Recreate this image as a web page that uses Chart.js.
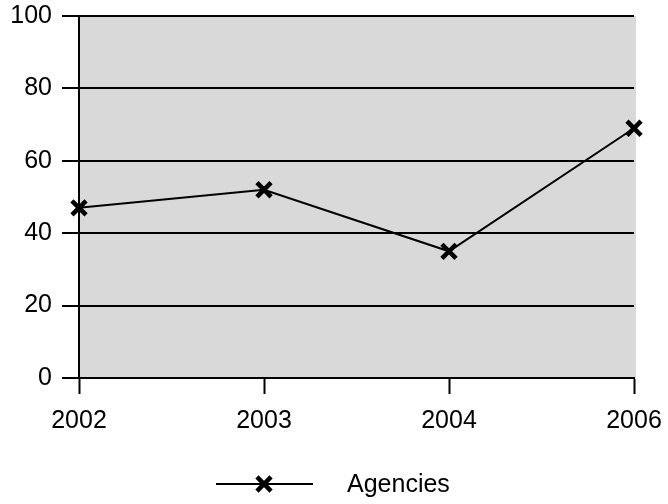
<!DOCTYPE html>
<html>
<head>
<meta charset="utf-8">
<script src="https://cdn.jsdelivr.net/npm/chart.js@4/dist/chart.umd.min.js"></script>
<style>
  html, body { margin: 0; padding: 0; background: #ffffff; }
  #wrap { width: 668px; height: 504px; }
</style>
</head>
<body>
<div id="wrap"><canvas id="c" width="668" height="504"></canvas></div>
<script>
// Survey years and the share reported for agencies
const years = ['2002', '2003', '2004', '2006'];
const agencies = [47, 52, 35, 69];
const yTicks = [0, 20, 40, 60, 80, 100];
const seriesName = 'Agencies';

const FONT = { family: '"Liberation Sans", Arial, sans-serif', size: 25 };

// Grey plot background behind the gridlines
const plotBackground = {
  id: 'plotBackground',
  beforeDraw(chart) {
    const { ctx, chartArea: a } = chart;
    ctx.save();
    ctx.fillStyle = '#d9d9d9';
    ctx.fillRect(a.left, a.top, a.right - a.left + 2, a.bottom - a.top);
    ctx.restore();
  }
};

// Legend entry: a line sample with the series marker, label to the right
const lineLegend = {
  id: 'lineLegend',
  afterDraw(chart) {
    const { ctx } = chart;
    const ds = chart.data.datasets[0];
    const y = 484;
    const x0 = 216, x1 = 313, xm = 264;
    ctx.save();
    ctx.strokeStyle = ds.borderColor;
    ctx.lineWidth = ds.borderWidth;
    ctx.beginPath();
    ctx.moveTo(x0, y);
    ctx.lineTo(x1, y);
    ctx.stroke();
    ctx.lineWidth = ds.pointBorderWidth;
    Chart.helpers.drawPoint(ctx, {
      pointStyle: ds.pointStyle,
      radius: ds.pointRadius,
      borderWidth: ds.pointBorderWidth,
      rotation: 0
    }, xm, y);
    ctx.fillStyle = '#000';
    ctx.font = `${FONT.size}px ${FONT.family}`;
    ctx.textBaseline = 'middle';
    ctx.textAlign = 'left';
    ctx.fillText(ds.label, 347, y + 1);
    ctx.restore();
  }
};

new Chart(document.getElementById('c'), {
  type: 'line',
  data: {
    labels: years,
    datasets: [{
      label: seriesName,
      data: agencies,
      borderColor: '#000000',
      borderWidth: 2,
      pointStyle: 'crossRot',
      pointRadius: 10,
      pointBorderWidth: 4.5,
      pointBorderColor: '#000000',
      pointBackgroundColor: '#000000',
      tension: 0
    }]
  },
  options: {
    responsive: false,
    animation: false,
    devicePixelRatio: 1,
    layout: { padding: { left: 0, right: 34, top: 16, bottom: 66 } },
    plugins: {
      legend: { display: false },
      tooltip: { enabled: false }
    },
    scales: {
      x: {
        offset: false,
        afterFit(s) { s.height = 60; s.paddingLeft = 0; s.paddingRight = 0; },
        grid: {
          display: true,
          drawOnChartArea: false,
          drawTicks: true,
          tickLength: 16,
          tickWidth: 2,
          tickColor: '#000'
        },
        border: { display: true, color: '#000', width: 2 },
        ticks: {
          color: '#000',
          font: FONT,
          padding: 12,
          maxRotation: 0,
          autoSkip: false
        }
      },
      y: {
        min: 0,
        max: 100,
        afterFit(s) { s.width = 79; s.paddingTop = 0; s.paddingBottom = 0; },
        afterBuildTicks(s) { s.ticks = yTicks.map(v => ({ value: v })); },
        grid: {
          color: '#000',
          lineWidth: 2,
          drawTicks: true,
          tickLength: 17,
          tickColor: '#000'
        },
        border: { display: true, color: '#000', width: 2 },
        ticks: {
          color: '#000',
          font: FONT,
          padding: 10
        }
      }
    }
  },
  plugins: [plotBackground, lineLegend]
});
</script>
</body>
</html>
